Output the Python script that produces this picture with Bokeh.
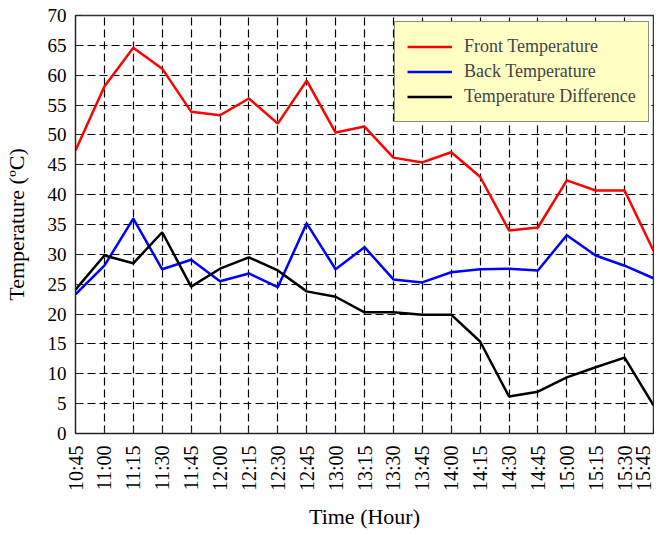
from bokeh.plotting import figure
from bokeh.models import Range1d, FixedTicker, Legend, LegendItem
from bokeh.embed import file_html
from bokeh.resources import INLINE

times = ["10:45", "11:00", "11:15", "11:30", "11:45", "12:00", "12:15", "12:30",
         "12:45", "13:00", "13:15", "13:30", "13:45", "14:00", "14:15", "14:30",
         "14:45", "15:00", "15:15", "15:30", "15:45"]
front = [47.4, 58.1, 64.6, 61.1, 53.9, 53.3, 56.1, 51.9, 59.1, 50.4, 51.4,
         46.2, 45.4, 47.1, 43.0, 34.0, 34.5, 42.4, 40.7, 40.7, 30.6]
back = [23.3, 28.1, 36.0, 27.5, 29.1, 25.5, 26.8, 24.5, 35.2, 27.5, 31.2,
        25.8, 25.3, 27.0, 27.5, 27.6, 27.3, 33.2, 29.8, 28.1, 26.0]
diff = [24.1, 29.8, 28.5, 33.7, 24.6, 27.6, 29.5, 27.3, 23.8, 22.9, 20.3,
        20.3, 19.9, 19.9, 15.4, 6.2, 7.0, 9.4, 11.1, 12.7, 4.7]
y_ticks = list(range(0, 75, 5))

FONT = "Liberation Serif"
xs = list(range(len(times)))

p = figure(width=654, height=532, output_backend="svg", toolbar_location=None,
           x_range=Range1d(0, len(times) - 1), y_range=Range1d(0, 70),
           min_border_left=74, min_border_right=1, min_border_top=15, min_border_bottom=99)

p.outline_line_color = "#333333"
p.outline_line_width = 1.5

r1 = p.line(xs, front, line_color="red", line_width=2.5)
r2 = p.line(xs, back, line_color="blue", line_width=2.5)
r3 = p.line(xs, diff, line_color="black", line_width=2.5)

p.xaxis.ticker = FixedTicker(ticks=xs)
p.xaxis.major_label_overrides = {i: t for i, t in enumerate(times)}
p.xaxis.major_label_orientation = 1.5708
p.yaxis.ticker = FixedTicker(ticks=y_ticks)

for ax in (p.xaxis[0], p.yaxis[0]):
    ax.major_label_text_font = FONT
    ax.major_label_text_color = "black"
    ax.axis_label_text_font = FONT
    ax.axis_label_text_font_size = "22px"
    ax.axis_label_text_font_style = "normal"
    ax.axis_label_text_color = "black"
    ax.major_tick_in = 6
    ax.major_tick_out = 0
    ax.minor_tick_line_color = None
    ax.axis_line_color = "#222222"
    ax.major_tick_line_color = "#222222"

p.xaxis.major_label_text_font_size = "20px"
p.yaxis.major_label_text_font_size = "19px"
p.xaxis.major_label_standoff = 12
p.yaxis.major_label_standoff = 9
p.xaxis.axis_label = "Time (Hour)"
p.yaxis.axis_label = "Temperature (ºC)"
p.xaxis.axis_label_standoff = 10
p.yaxis.axis_label_standoff = 16

for g in (p.xgrid[0], p.ygrid[0]):
    g.grid_line_color = "#000000"
    g.grid_line_dash = "8 4"
    g.grid_line_width = 1.2
    g.grid_line_alpha = 1.0

legend = Legend(items=[
    LegendItem(label="Front Temperature", renderers=[r1]),
    LegendItem(label="Back Temperature", renderers=[r2]),
    LegendItem(label="Temperature Difference", renderers=[r3]),
], location=(319, 311))
legend.label_text_font = FONT
legend.label_text_font_size = "18px"
legend.background_fill_color = "#FFFFC4"
legend.background_fill_alpha = 1.0
legend.border_line_color = "#222222"
legend.border_line_width = 1
legend.glyph_width = 45
legend.glyph_height = 25
legend.label_height = 25
legend.spacing = 0
legend.padding = 12
legend.margin = 0
legend.label_standoff = 12
p.add_layout(legend)

open("out.html", "w").write(file_html(p, INLINE))
